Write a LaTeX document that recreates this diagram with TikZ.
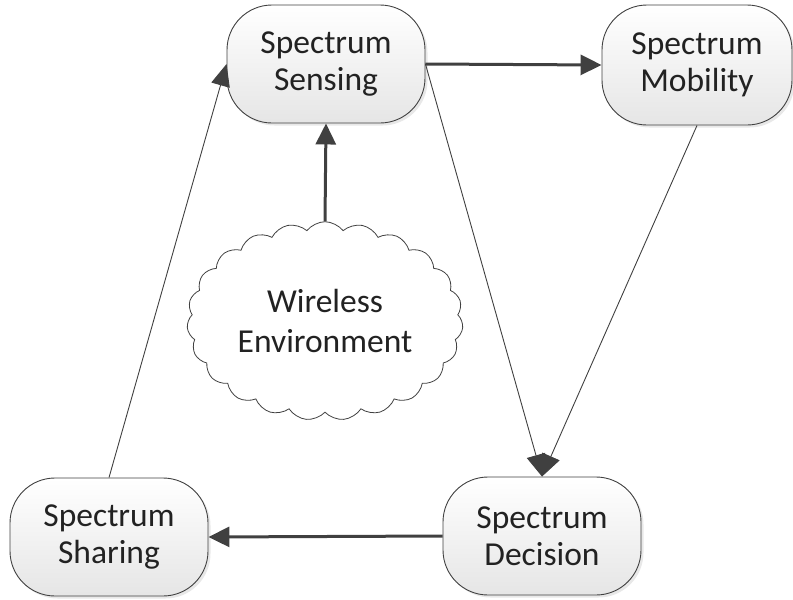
\documentclass[tikz,border=0pt]{standalone}
\usepackage{fontspec}
\setmainfont{Carlito}
\usetikzlibrary{shapes.symbols,arrows.meta,shadows}
\definecolor{edgegray}{HTML}{404040}
\definecolor{textgray}{HTML}{222222}
\tikzset{
  procbox/.style={draw=edgegray, line width=0.9pt, rounded corners=45pt,
    minimum width=198pt, minimum height=118pt, top color=white, bottom color=black!10,
    text=textgray, align=center, font=\fontsize{33.5}{37}\selectfont,
    drop shadow={opacity=0.18, shadow xshift=2.5pt, shadow yshift=-2.5pt}},
  envcloud/.style={cloud, cloud puffs=23, cloud puff arc=105, aspect=1.4,
    draw=edgegray, line width=0.8pt, fill=white,
    minimum width=276pt, minimum height=197pt, align=center, text=textgray,
    font=\fontsize{33.5}{40}\selectfont},
  thickflow/.style={draw=edgegray, line width=3pt, -{Triangle[length=21pt,width=20pt]}},
  thinflow/.style={draw=edgegray, line width=0.9pt, -{Triangle[length=22pt,width=19pt]}},
}
\begin{document}
\begin{tikzpicture}[x=1pt,y=-1pt]
  \useasboundingbox (0,0) rectangle (793,600);
  % process stages
  \node[procbox] (sense) at (326,64) {Spectrum\\Sensing};
  \node[procbox, minimum width=190pt, minimum height=120pt] (mob) at (697,65) {Spectrum\\Mobility};
  \node[procbox] (share) at (109,537) {Spectrum\\Sharing};
  \node[procbox] (decide) at (542,536) {Spectrum\\Decision};
  % surrounding radio environment
  \node[envcloud] (env) at (325,321) {Wireless\\Environment};
  % cognitive cycle connectors
  \draw[thickflow] (sense.east) -- (mob.west);
  \draw[thickflow] (env.north) -- (sense.south);
  \draw[thinflow] (sense.east) -- (decide.north);
  \draw[thinflow] (mob.south) -- (decide.north);
  \draw[thickflow] (decide.west) -- (share.east);
  \draw[thinflow] (share.north) -- (sense.west);
\end{tikzpicture}
\end{document}
